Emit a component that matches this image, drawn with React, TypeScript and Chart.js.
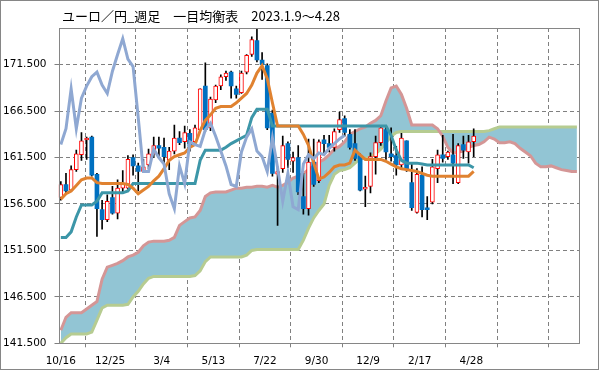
import React, { useEffect, useRef } from 'react';
import { Chart, registerables } from 'chart.js';

Chart.register(...registerables);

const TITLE = 'ユーロ／円_週足　一目均衡表　2023.1.9～4.28';
const dateLabels = ['10/16', '12/25', '3/4', '5/13', '7/22', '9/30', '12/9', '2/17', '4/28', '', ''];
const yTicks = [141.5, 146.5, 151.5, 156.5, 161.5, 166.5, 171.5];

const opens = [
  157.2, 158.6, 158.0, 160.2, 161.8, 163.4, 163.7, 159.7, 155.9, 154.8,
  157.2, 155.5, 158.2, 158.2, 161.5, 160.6, 160.0, 160.7, 161.9, 162.8,
  162.6, 161.2, 162.2, 163.6, 163.2, 164.1, 163.2, 164.5, 169.2, 164.7,
  167.7, 169.2, 170.2, 170.7, 168.9, 168.5, 170.7, 172.6, 174.1, 172.0,
  171.4, 166.3, 159.7, 160.3, 163.0, 161.1, 161.5, 157.3, 156.0, 161.0,
  159.0, 163.4, 163.0, 162.6, 164.5, 165.7, 164.0, 163.0, 161.7, 158.1,
  158.4, 161.6, 163.1, 164.5, 161.9, 161.7, 160.7, 163.3, 158.8, 155.6,
  159.6, 156.1, 156.7, 160.3, 161.8, 161.6, 161.8, 158.8, 162.9, 162.1,
  163.2,
];
const highs = [
  158.9, 159.8, 160.6, 162.3, 164.2, 163.7, 163.8, 159.8, 156.9, 157.5,
  158.4, 159.1, 160.1, 161.7, 161.8, 160.9, 161.3, 162.4, 163.7, 163.7,
  163.6, 162.6, 165.0, 164.3, 164.9, 164.5, 165.0, 168.9, 171.7, 168.0,
  169.3, 170.4, 170.8, 170.8, 169.2, 170.8, 172.6, 174.5, 175.8, 172.8,
  171.6, 166.6, 160.5, 163.8, 163.2, 162.1, 162.8, 159.8, 163.5, 163.5,
  163.4, 163.9, 163.9, 164.6, 166.4, 166.0, 164.5, 164.5, 161.9, 159.5,
  162.0, 163.8, 164.8, 164.9, 164.7, 162.7, 164.1, 163.3, 160.9, 160.3,
  160.5, 157.3, 161.3, 162.3, 163.9, 162.2, 164.0, 163.0, 163.8, 163.9,
  164.6,
];
const lows = [
  156.9, 157.7, 157.9, 160.0, 161.2, 161.3, 159.5, 153.0, 153.8, 154.6,
  155.4, 154.9, 157.8, 158.1, 159.6, 157.9, 159.9, 160.3, 161.5, 161.5,
  160.7, 160.2, 161.9, 162.9, 162.5, 162.2, 162.8, 164.3, 164.3, 164.4,
  167.4, 168.8, 169.8, 167.9, 167.9, 168.4, 170.5, 172.4, 171.8, 169.9,
  164.5, 159.5, 154.2, 159.9, 160.4, 159.9, 157.5, 155.4, 155.3, 158.4,
  158.8, 161.8, 162.1, 162.2, 164.2, 163.8, 162.4, 161.2, 157.9, 156.2,
  157.7, 159.7, 162.8, 161.3, 161.1, 159.6, 160.2, 160.0, 155.8, 155.5,
  155.1, 154.8, 156.5, 158.8, 161.0, 161.3, 158.7, 158.7, 161.4, 160.9,
  161.6,
];
const closes = [
  158.6, 157.9, 160.2, 161.9, 163.3, 163.6, 159.6, 156.0, 154.8, 156.8,
  155.5, 158.2, 158.7, 161.3, 160.6, 160.0, 160.5, 161.9, 162.8, 162.5,
  161.6, 162.2, 163.6, 163.1, 164.2, 162.7, 164.7, 168.9, 164.5, 167.8,
  169.2, 170.2, 170.6, 169.2, 168.3, 170.6, 172.5, 174.2, 172.0, 171.5,
  164.7, 159.8, 160.0, 162.8, 161.3, 161.5, 157.8, 156.0, 161.0, 158.6,
  163.2, 163.0, 162.6, 164.3, 165.6, 164.2, 162.6, 161.4, 158.0, 158.3,
  161.6, 163.1, 164.7, 162.1, 161.6, 160.7, 163.6, 160.3, 156.1, 159.7,
  155.9, 155.9, 160.5, 161.8, 161.4, 162.1, 160.9, 162.8, 162.3, 163.2,
  163.8,
];
const tenkan = [
  157.0, 157.6, 157.9, 158.5, 159.1, 159.3, 159.3, 158.8, 158.7, 158.7,
  158.7, 158.7, 158.7, 158.6, 158.2, 157.6, 158.0, 158.4, 159.0, 159.5,
  160.3, 161.2, 161.6, 161.8, 162.0, 162.6, 162.9, 164.4, 165.5, 166.1,
  166.8, 167.0, 167.0, 167.0, 167.4, 167.9, 168.4, 169.3, 170.6, 171.4,
  170.0, 167.4, 164.9, 164.9, 164.9, 164.9, 164.9, 164.0, 162.8, 160.9,
  159.2, 159.4, 159.9, 160.5, 160.7, 160.7, 160.9, 162.3, 161.8, 161.3,
  161.3, 161.3, 161.3, 161.1, 160.8, 160.5, 160.3, 160.2, 160.1, 160.0,
  159.8, 159.6, 159.5, 159.5, 159.5, 159.5, 159.5, 159.5, 159.5, 159.5,
  160.0,
];
const kijun = [
  152.9, 152.9, 153.5, 155.1, 156.4, 156.4, 156.4, 156.8, 157.7, 157.7,
  157.7, 157.7, 157.7, 157.9, 158.7, 158.7, 158.7, 158.7, 158.7, 158.7,
  158.7, 158.7, 158.7, 158.7, 158.7, 158.7, 158.7, 161.2, 162.3, 162.3,
  162.3, 162.3, 162.6, 163.0, 163.3, 163.6, 163.9, 165.8, 166.7, 166.7,
  166.7, 164.9, 164.9, 164.9, 164.9, 164.9, 164.9, 164.9, 164.9, 164.9,
  164.9, 164.9, 164.9, 164.9, 164.9, 164.9, 164.9, 164.9, 164.9, 164.9,
  164.9, 164.9, 164.9, 164.9, 163.9, 162.3, 161.2, 160.9, 160.9, 160.9,
  160.8, 160.7, 160.7, 160.7, 160.7, 160.7, 160.7, 160.7, 160.7, 160.7,
  160.4,
];
const chikou = [
  162.9, 164.6, 168.9, 164.6, 167.9, 169.2, 170.2, 170.7, 169.3, 168.4,
  170.8, 172.6, 174.3, 172.1, 171.3, 165.8, 160.0, 160.0, 162.4, 161.5,
  160.8, 157.6, 156.0, 160.6, 158.7, 163.2, 162.9, 162.7, 164.5, 165.2,
  163.8, 162.2, 160.6, 158.6, 158.4, 162.1, 163.7, 164.6, 162.2, 161.6,
  160.0, 163.6, 160.4, 156.8, 159.8, 156.2, 155.9, 160.8, 161.8, 161.4,
  162.0, 161.8, 162.5, 163.0, 163.5, 163.9,
];
const senkouA = [
  142.9, 144.3, 144.8, 144.8, 144.8, 145.2, 145.6, 146.0, 148.4, 149.7,
  149.9, 150.1, 150.4, 150.8, 151.0, 151.3, 152.0, 152.4, 152.5, 152.5,
  152.5, 152.6, 152.9, 154.2, 154.6, 155.0, 155.1, 155.8, 157.3, 157.7,
  157.8, 157.8, 157.8, 158.0, 158.2, 158.2, 158.3, 158.3, 158.4, 158.4,
  158.3, 158.5, 158.3, 158.5, 158.8, 159.3, 159.5, 159.8, 160.2, 160.6,
  161.0, 161.3, 161.8, 162.4, 162.7, 163.2, 164.0, 164.3, 164.6, 164.8,
  165.2, 165.5, 166.0, 167.6, 169.0, 169.2, 168.3, 166.8, 165.0, 165.0,
  165.0, 165.0, 165.0, 164.6, 163.8, 162.6, 162.0, 162.1, 162.2, 162.6,
  162.8, 162.9, 163.2, 163.7, 163.5, 163.1, 163.1, 163.2, 163.0, 162.5,
  162.1, 161.7, 160.9, 160.5, 160.5, 160.6, 160.4, 160.2, 160.1, 160.0,
  160.0,
];
const senkouB = [
  141.5, 142.1, 142.5, 142.5, 142.5, 142.5, 142.7, 144.0, 145.3, 145.6,
  145.6, 145.6, 145.6, 145.7, 146.5, 147.1, 147.9, 148.5, 148.7, 148.7,
  148.7, 148.7, 148.7, 148.7, 148.7, 148.7, 148.8, 149.3, 150.3, 150.8,
  150.8, 150.8, 150.8, 150.8, 150.8, 150.8, 151.0, 151.5, 151.6, 151.6,
  151.6, 151.6, 151.6, 151.6, 151.6, 151.6, 151.6, 152.6, 153.9, 155.0,
  155.8, 156.5, 158.5, 159.7, 160.1, 160.2, 160.4, 160.9, 161.4, 161.4,
  161.6, 161.9, 162.4, 163.1, 163.8, 164.2, 164.3, 164.3, 164.3, 164.3,
  164.3, 164.3, 164.3, 164.3, 164.3, 164.3, 164.3, 164.3, 164.3, 164.3,
  164.3, 164.3, 164.3, 164.4, 164.6, 164.8, 164.8, 164.8, 164.8, 164.8,
  164.8, 164.8, 164.8, 164.8, 164.8, 164.8, 164.8, 164.8, 164.8, 164.8,
  164.8,
];

const COLORS = {
  up: '#FF0000',
  down: '#0070C0',
  wick: '#000000',
  tenkan: '#E08230',
  kijun: '#3C96A8',
  chikou: '#8FA8D2',
  spanA: '#D49696',
  spanB: '#B6CC91',
  cloud: '#92C5D4',
  grid: '#808080',
  frame: '#868686',
};

const toPoints = (arr: number[]) => arr.map((y, x) => ({ x, y }));

const decorPlugin = {
  id: 'decor',
  afterDraw(chart: any) {
    const { ctx, chartArea: a } = chart;
    ctx.save();
    ctx.setLineDash([]);
    ctx.strokeStyle = COLORS.frame;
    ctx.lineWidth = 1;
    const l = Math.round(a.left) + 0.5;
    const t = Math.round(a.top) + 0.5;
    const r = Math.round(a.right) - 0.5;
    const b = Math.round(a.bottom) + 0.5;
    ctx.strokeRect(l, t, r - l, b - t);
    ctx.strokeRect(0.5, 0.5, chart.width - 1, chart.height - 1);
    ctx.fillStyle = '#000';
    ctx.font = '13px "Noto Sans CJK JP"';
    ctx.textBaseline = 'middle';
    ctx.textAlign = 'left';
    ctx.fillText(TITLE, 62, 16);
    ctx.restore();
  },
};

export default function App() {
  const ref = useRef<HTMLCanvasElement>(null);

  useEffect(() => {
    const idx = opens.map((_, i) => i);
    const upIdx = idx.filter((i) => closes[i] >= opens[i]);
    const downIdx = idx.filter((i) => closes[i] < opens[i]);
    const tickFont = { family: 'DejaVu Sans', size: 10.5 };

    const chart = new Chart(ref.current as HTMLCanvasElement, {
      type: 'bar',
      data: {
        datasets: [
          {
            type: 'line',
            label: '先行スパン1',
            data: toPoints(senkouA),
            borderColor: COLORS.spanA,
            borderWidth: 3,
            pointRadius: 0,
            tension: 0,
            fill: { target: 1, above: COLORS.cloud, below: COLORS.cloud },
            order: 5,
          },
          {
            type: 'line',
            label: '先行スパン2',
            data: toPoints(senkouB),
            borderColor: COLORS.spanB,
            borderWidth: 3,
            pointRadius: 0,
            tension: 0,
            fill: false,
            order: 6,
          },
          {
            type: 'bar',
            label: 'ヒゲ',
            data: idx.map((i) => ({ x: i, y: [lows[i], highs[i]] })),
            backgroundColor: COLORS.wick,
            borderWidth: 0,
            barThickness: 1,
            grouped: false,
            order: 4,
          },
          {
            type: 'bar',
            label: '陽線',
            data: upIdx.map((i) => ({ x: i, y: [opens[i], closes[i]] })),
            backgroundColor: '#FFFFFF',
            borderColor: COLORS.up,
            borderWidth: 1,
            borderSkipped: false,
            barThickness: 4,
            grouped: false,
            order: 3,
          },
          {
            type: 'bar',
            label: '陰線',
            data: downIdx.map((i) => ({ x: i, y: [closes[i], opens[i]] })),
            backgroundColor: COLORS.down,
            borderColor: COLORS.down,
            borderWidth: 0,
            borderSkipped: false,
            barThickness: 4,
            grouped: false,
            order: 3,
          },
          {
            type: 'line',
            label: '基準線',
            data: toPoints(kijun),
            borderColor: COLORS.kijun,
            borderWidth: 3,
            pointRadius: 0,
            tension: 0,
            fill: false,
            order: 2,
          },
          {
            type: 'line',
            label: '転換線',
            data: toPoints(tenkan),
            borderColor: COLORS.tenkan,
            borderWidth: 3,
            pointRadius: 0,
            tension: 0,
            fill: false,
            order: 1,
          },
          {
            type: 'line',
            label: '遅行スパン',
            data: toPoints(chikou),
            borderColor: COLORS.chikou,
            borderWidth: 3,
            pointRadius: 0,
            tension: 0,
            fill: false,
            order: 0,
          },
        ] as any,
      },
      options: {
        animation: false,
        responsive: false,
        devicePixelRatio: 1,
        layout: { padding: { top: 28, right: 19, left: 0, bottom: 0 } },
        plugins: {
          legend: { display: false },
          tooltip: { enabled: false },
          filler: { drawTime: 'beforeDatasetsDraw' } as any,
        },
        scales: {
          x: {
            type: 'linear',
            min: -0.45,
            max: 100.6,
            offset: false,
            afterBuildTicks: (s: any) => {
              s.ticks = dateLabels.map((_, k) => ({ value: k === 0 ? 0 : k * 10 - 0.45 }));
            },
            afterFit: (s: any) => {
              s.height = 26.7;
            },
            ticks: {
              autoSkip: false,
              maxRotation: 0,
              color: '#000',
              font: tickFont,
              padding: 8,
              callback: (_v: any, i: number) => dateLabels[i],
            },
            grid: {
              color: COLORS.grid,
              lineWidth: 1,
              drawTicks: true,
              tickLength: 4,
              tickColor: COLORS.grid,
            },
            border: { display: false, dash: [4, 3] },
          },
          y: {
            type: 'linear',
            min: 141.5,
            max: 175.45,
            afterBuildTicks: (s: any) => {
              s.ticks = yTicks.map((v) => ({ value: v }));
            },
            afterFit: (s: any) => {
              s.width = 58.5;
            },
            ticks: {
              color: '#000',
              font: tickFont,
              padding: 8,
              callback: (v: any) => Number(v).toFixed(3),
            },
            grid: {
              color: COLORS.grid,
              lineWidth: 1,
              drawTicks: true,
              tickLength: 4,
              tickColor: COLORS.grid,
            },
            border: { display: false, dash: [4, 3] },
          },
        },
      } as any,
      plugins: [decorPlugin],
    });
    return () => chart.destroy();
  }, []);

  return (
    <div style={{ position: 'absolute', left: 0, top: 0, width: 599, height: 370, background: '#fff' }}>
      <canvas ref={ref} width={599} height={370} style={{ display: 'block', width: 599, height: 370 }} />
    </div>
  );
}
